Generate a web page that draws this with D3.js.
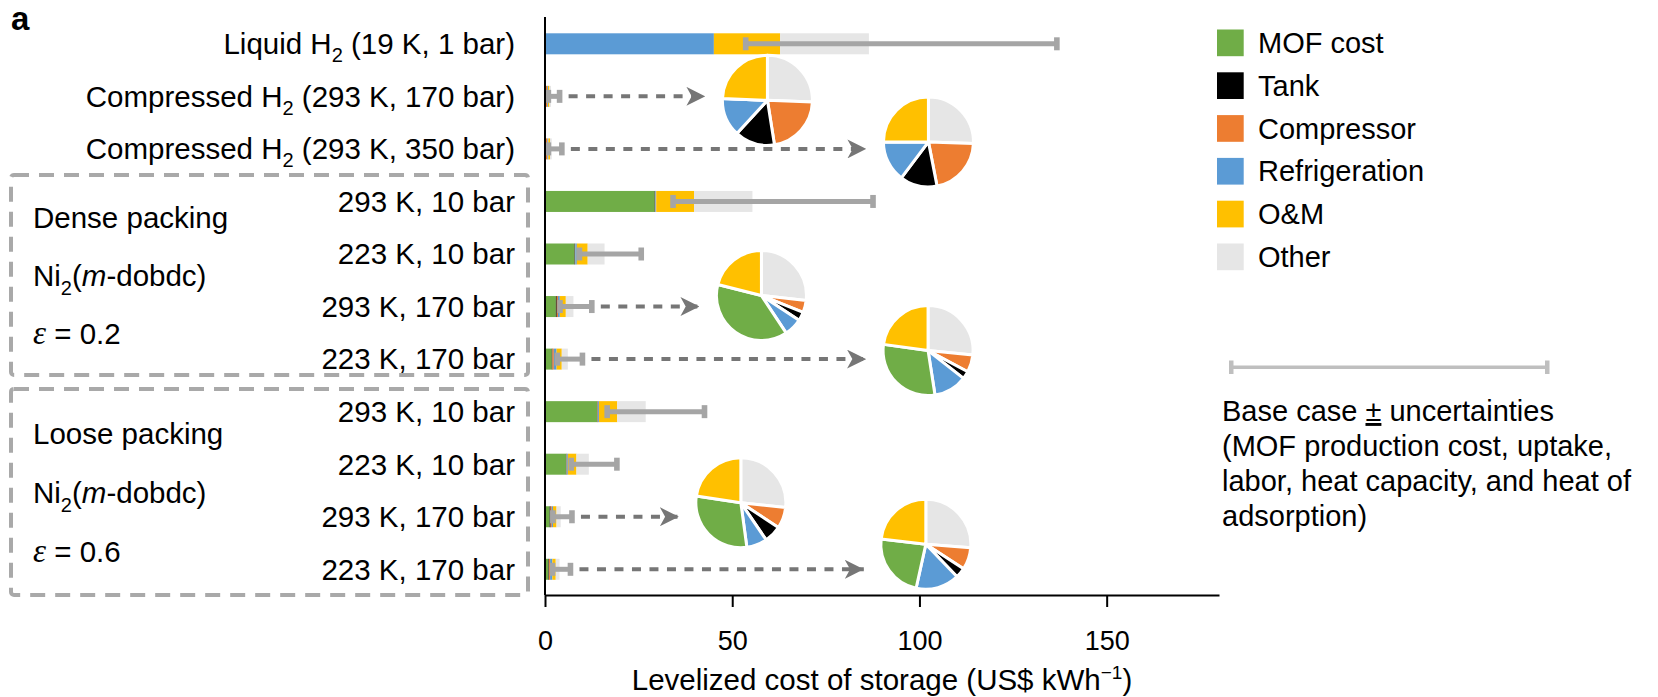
<!DOCTYPE html>
<html lang="en">
<head>
<meta charset="utf-8">
<title>Levelized cost of storage</title>
<script src="https://d3js.org/d3.v7.min.js"></script>
<style>
  body { margin: 0; background: #fff; }
  svg text { font-family: "Liberation Sans", Arial, sans-serif; fill: #000; }
</style>
</head>
<body>
<script>
// ---- data (US$ per kWh), rows top to bottom ----
// "_2" = subscript, "*m*" = italic
const rowLabels = [
  "Liquid H_2 (19 K, 1 bar)",
  "Compressed H_2 (293 K, 170 bar)",
  "Compressed H_2 (293 K, 350 bar)",
  "293 K, 10 bar", "223 K, 10 bar", "293 K, 170 bar", "223 K, 170 bar",
  "293 K, 10 bar", "223 K, 10 bar", "293 K, 170 bar", "223 K, 170 bar"
];
const components = ["MOF cost", "Tank", "Compressor", "Refrigeration", "O&M", "Other"];
const mofCost       = [0,    0,    0,     29.3, 7.9, 2.9,  1.81, 13.9, 5.6, 1.24, 0.91];
const tank          = [0,    0.23, 0.24,  0.1,  0.1, 0.24, 0.17, 0.1,  0.1, 0.26, 0.14];
const compressor    = [0,    0.35, 0.385, 0.1,  0.1, 0.33, 0.38, 0.1,  0.1, 0.32, 0.31];
const refrigeration = [45.1, 0.22, 0.265, 0.2,  0.4, 0.49, 0.73, 0.3,  0.3, 0.31, 0.61];
const om            = [17.7, 0.39, 0.45,  10.1, 2.9, 1.6,  1.39, 4.9,  2.3, 0.95, 0.9];
const other         = [23.7, 0.41, 0.46,  15.6, 4.5, 2.03, 1.62, 7.6,  3.3, 1.12, 1.02];
const errLow  = [53.6,  0.9, 0.9, 34.2, 9.2,  4.0,  3.3,  16.6, 7.0,  2.1, 2.0];
const errHigh = [136.7, 3.9, 4.5, 87.6, 25.7, 12.5, 10.0, 42.6, 19.2, 7.2, 6.8];
const xTicks = [0, 50, 100, 150];

const groupNames = ["Dense packing", "Loose packing"];
const groupMaterial = "Ni_2(*m*-dobdc)";
const groupEps = ["0.2", "0.6"];
const uncertaintyText = [
  "(MOF production cost, uptake,",
  "labor, heat capacity, and heat of",
  "adsorption)"
];

// colours
const colors = {
  "MOF cost": "#70ad47", "Tank": "#000000", "Compressor": "#ed7d31",
  "Refrigeration": "#5b9bd5", "O&M": "#ffc000", "Other": "#e6e6e6"
};
// pie slice order (clockwise from 12 o'clock)
const pieOrder = ["Other", "Compressor", "Tank", "Refrigeration", "MOF cost", "O&M"];
// where the pies sit (cx in axis units, dy in px from the row)
const pieSpots = [
  {row: 1, cx: 59.4, dy: 4},
  {row: 2, cx: 102.4, dy: -7},
  {row: 5, cx: 57.8, dy: -11},
  {row: 6, cx: 102.3, dy: -8.5},
  {row: 9, cx: 52.3, dy: -14},
  {row: 10, cx: 101.7, dy: -25}
];

const table = rowLabels.map((label, i) => ({
  label: label, i: i,
  "MOF cost": mofCost[i], "Tank": tank[i], "Compressor": compressor[i],
  "Refrigeration": refrigeration[i], "O&M": om[i], "Other": other[i],
  lo: errLow[i], hi: errHigh[i]
}));

// ---- layout ----
const W = 1658, H = 697;
const axisY = 595;
const barH = 21;
const pieR = 45;
const fs = 29.5;

const x = d3.scaleLinear().domain([0, 180]).range([545, 1219]);
const y = d3.scalePoint().domain(d3.range(rowLabels.length)).range([43.8, 569.3]);

const svg = d3.select("body").append("svg").attr("width", W).attr("height", H);

// rich text helper: _2 -> subscript, *m* -> italic
function rich(sel, str, size) {
  const parts = str.split(/(_\d|\*[^*]+\*)/).filter(s => s.length);
  let shift = 0;
  parts.forEach(p => {
    const t = sel.append("tspan");
    if (p[0] === "_") {
      t.attr("font-size", size * 0.68).attr("dy", size * 0.28 - shift).text(p.slice(1));
      shift = size * 0.28;
    } else {
      if (shift) { t.attr("dy", -shift); shift = 0; }
      if (p[0] === "*") t.attr("font-style", "italic").text(p.slice(1, -1));
      else t.text(p);
    }
  });
}

// panel letter
svg.append("text").attr("x", 11).attr("y", 30)
  .attr("font-size", 33).attr("font-weight", "bold").text("a");

// dashed group boxes
const boxes = [{y0: 175, y1: 375}, {y0: 389, y1: 595}];
svg.selectAll("rect.box").data(boxes).enter().append("rect")
  .attr("class", "box")
  .attr("x", 11).attr("y", d => d.y0)
  .attr("width", 517).attr("height", d => d.y1 - d.y0)
  .attr("rx", 3)
  .attr("fill", "none").attr("stroke", "#a9a9a9")
  .attr("stroke-width", 4).attr("stroke-dasharray", "15,10");

// group text
groupNames.forEach((g, k) => {
  const top = k === 0 ? 218 : 434;
  const step = k === 0 ? 58 : 59;
  svg.append("text").attr("x", 33).attr("y", top).attr("dy", "0.35em")
    .attr("font-size", fs).text(g);
  rich(svg.append("text").attr("x", 33).attr("y", top + step).attr("dy", "0.35em")
    .attr("font-size", fs), groupMaterial, fs);
  const e = svg.append("text").attr("x", 33).attr("y", top + 2 * step).attr("dy", "0.35em")
    .attr("font-size", fs);
  e.append("tspan").attr("font-family", "'Liberation Serif', serif")
    .attr("font-style", "italic").attr("font-size", 33).text("\u03B5");
  e.append("tspan").text(" = " + groupEps[k]);
});

// row labels
svg.selectAll("text.rowlab").data(table).enter().append("text")
  .attr("class", "rowlab")
  .attr("x", 515).attr("y", d => y(d.i)).attr("dy", "0.35em")
  .attr("text-anchor", "end")
  .attr("font-size", fs)
  .each(function(d) { rich(d3.select(this), d.label, fs); });

// stacked bars
const series = d3.stack().keys(components)(table);
svg.append("g").selectAll("g").data(series).enter().append("g")
  .attr("fill", s => colors[s.key])
  .selectAll("rect").data(s => s).enter().append("rect")
  .attr("x", d => x(d[0]))
  .attr("y", (d, i) => y(i) - barH / 2)
  .attr("width", d => Math.max(0, x(d[1]) - x(d[0])))
  .attr("height", barH);

// error bars
const err = svg.append("g").attr("fill", "#a5a5a5");
err.selectAll("line").data(table).enter().append("line")
  .attr("x1", d => x(d.lo)).attr("x2", d => x(d.hi))
  .attr("y1", d => y(d.i)).attr("y2", d => y(d.i))
  .attr("stroke", "#a5a5a5").attr("stroke-width", 5);
err.selectAll("rect.cap").data(table.flatMap(d => [{v: d.lo, i: d.i}, {v: d.hi, i: d.i}]))
  .enter().append("rect").attr("class", "cap")
  .attr("x", d => x(d.v) - 2.8).attr("y", d => y(d.i) - 6.5)
  .attr("width", 5.6).attr("height", 13);

// axes
svg.append("line").attr("x1", x(0)).attr("x2", x(0)).attr("y1", 17).attr("y2", axisY)
  .attr("stroke", "#000").attr("stroke-width", 2);
const gx = svg.append("g").attr("transform", `translate(0,${axisY})`)
  .call(d3.axisBottom(x).tickValues(xTicks).tickSize(12).tickSizeOuter(0).tickPadding(24));
gx.select(".domain").attr("stroke", "#000").attr("stroke-width", 2);
gx.selectAll(".tick line").attr("stroke", "#000").attr("stroke-width", 2);
gx.selectAll(".tick text").attr("font-size", 27).attr("font-family", "'Liberation Sans', Arial, sans-serif");

const title = svg.append("text").attr("x", (x(0) + x(180)) / 2).attr("y", 690)
  .attr("text-anchor", "middle").attr("font-size", fs);
title.append("tspan").text("Levelized cost of storage (US$ kWh");
title.append("tspan").attr("font-size", 19).attr("dy", -11).text("\u22121");
title.append("tspan").attr("dy", 11).text(")");

// arrows + pies
const defs = svg.append("defs");
defs.append("marker").attr("id", "arrow")
  .attr("viewBox", "0 0 18 18").attr("refX", 18).attr("refY", 9)
  .attr("markerWidth", 19).attr("markerHeight", 19)
  .attr("markerUnits", "userSpaceOnUse").attr("orient", "auto")
  .append("path").attr("d", "M0,0 L18,9 L0,18 L5,9 Z").attr("fill", "#767676");

svg.append("g").selectAll("line").data(pieSpots).enter().append("line")
  .attr("x1", d => x(errHigh[d.row]) + 9)
  .attr("x2", d => x(d.cx) - 62)
  .attr("y1", d => y(d.row)).attr("y2", d => y(d.row))
  .attr("stroke", "#767676").attr("stroke-width", 4)
  .attr("stroke-dasharray", "9,8.5")
  .attr("marker-end", "url(#arrow)");

const arc = d3.arc().innerRadius(0).outerRadius(pieR);
pieSpots.forEach(p => {
  const row = table[p.row];
  const slices = d3.pie().sort(null).value(k => row[k])(pieOrder);
  svg.append("g")
    .attr("transform", `translate(${x(p.cx)},${y(p.row) + p.dy})`)
    .selectAll("path").data(slices).enter().append("path")
    .attr("d", arc)
    .attr("fill", d => colors[d.data])
    .attr("stroke", "#fff").attr("stroke-width", 3).attr("stroke-linejoin", "round");
});

// legend
const leg = svg.append("g").selectAll("g").data(components).enter().append("g")
  .attr("transform", (d, i) => `translate(1217,${42.8 + 42.8 * i})`);
leg.append("rect").attr("x", 0).attr("y", -13.3).attr("width", 26.7).attr("height", 26.7)
  .attr("fill", d => colors[d]);
leg.append("text").attr("x", 41).attr("dy", "0.35em").attr("font-size", 29).text(d => d);

// uncertainty key
const key = svg.append("g").attr("fill", "#bfbfbf");
key.append("rect").attr("x", 1230).attr("y", 365.5).attr("width", 318).attr("height", 3.5);
key.append("rect").attr("x", 1229).attr("y", 360.5).attr("width", 4.5).attr("height", 13.5);
key.append("rect").attr("x", 1545).attr("y", 360.5).attr("width", 4.5).attr("height", 13.5);
const first = svg.append("text").attr("x", 1222).attr("y", 421).attr("font-size", 29);
first.append("tspan").text("Base case ");
first.append("tspan").attr("text-decoration", "underline").text("\u00B1");
first.append("tspan").text(" uncertainties");
svg.append("g").selectAll("text").data(uncertaintyText).enter().append("text")
  .attr("x", 1222).attr("y", (d, i) => 456 + 35 * i)
  .attr("font-size", 29).text(d => d);
</script>
</body>
</html>
